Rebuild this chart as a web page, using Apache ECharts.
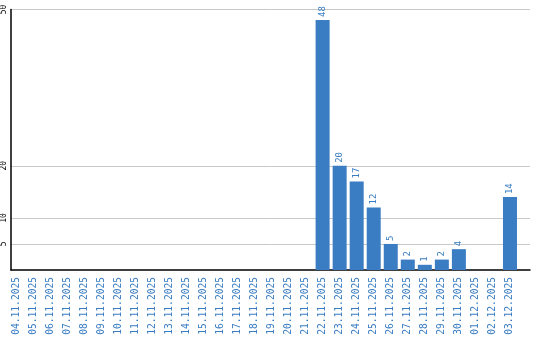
<!DOCTYPE html>
<html>
<head>
<meta charset="utf-8">
<script src="https://cdn.jsdelivr.net/npm/echarts@6/dist/echarts.min.js"></script>
<style>html,body{margin:0;padding:0;background:#fff}#c{width:540px;height:340px}</style>
</head>
<body>
<div id="c"></div>
<script>
var categories = ["04.11.2025","05.11.2025","06.11.2025","07.11.2025","08.11.2025","09.11.2025","10.11.2025","11.11.2025","12.11.2025","13.11.2025","14.11.2025","15.11.2025","16.11.2025","17.11.2025","18.11.2025","19.11.2025","20.11.2025","21.11.2025","22.11.2025","23.11.2025","24.11.2025","25.11.2025","26.11.2025","27.11.2025","28.11.2025","29.11.2025","30.11.2025","01.12.2025","02.12.2025","03.12.2025"];
var values = [0,0,0,0,0,0,0,0,0,0,0,0,0,0,0,0,0,0,48,20,17,12,5,2,1,2,4,0,0,14];
var yTicks = [5,10,20,50];
var yMax = 50;

var blue = '#3a7dc3';
var mono = '"DejaVu Sans Mono", "Liberation Mono", monospace';
var chart = echarts.init(document.getElementById('c'), null, {renderer: 'canvas'});
chart.setOption({
  animation: false,
  backgroundColor: '#fff',
  grid: [
    {left: 10, right: 10, top: 9.5, bottom: 70, containLabel: false},
    {left: 7.5, right: 21.5, top: 9.5, bottom: 70, containLabel: false}
  ],
  xAxis: [
    {gridIndex: 0, type: 'category', data: categories, boundaryGap: true,
     axisLine: {show: true, lineStyle: {color: '#000', width: 1.5}},
     axisTick: {show: false}, axisLabel: {show: false}, splitLine: {show: false}},
    {gridIndex: 1, type: 'category', data: categories,
     axisLine: {show: false}, axisTick: {show: false}, splitLine: {show: false},
     axisLabel: {show: true, interval: 0, rotate: 90, margin: 7, color: blue,
       fontFamily: mono, fontSize: 9.6}}
  ],
  yAxis: [
    {gridIndex: 0, type: 'value', min: 0, max: yMax,
     axisLine: {show: true, lineStyle: {color: '#000', width: 1.5}},
     axisTick: {show: false, customValues: yTicks},
     axisLabel: {show: true, customValues: yTicks, rotate: 90, margin: 3, color: '#000',
       fontFamily: mono, fontSize: 8},
     splitLine: {show: true, lineStyle: {color: '#c8c8c8', width: 1}}},
    {gridIndex: 1, type: 'value', min: 0, max: yMax, show: false,
     splitLine: {show: false}}
  ],
  series: [{
    type: 'bar', xAxisIndex: 1, yAxisIndex: 1, data: values, barWidth: 14,
    itemStyle: {color: blue},
    label: {show: true, position: 'top', rotate: 90, align: 'left', verticalAlign: 'middle',
      distance: 3, color: blue, fontFamily: mono, fontSize: 9,
      formatter: function (p) { return p.value ? String(p.value) : ''; }}
  }]
});
</script>
</body>
</html>
